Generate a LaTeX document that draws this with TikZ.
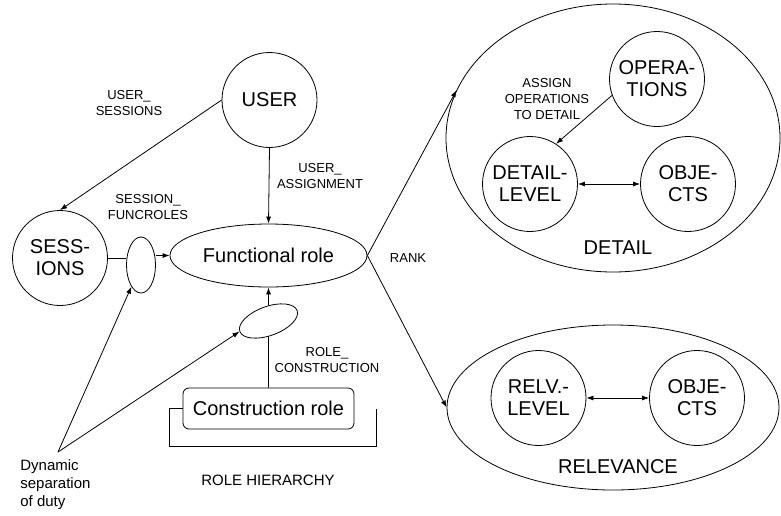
\documentclass[tikz,border=0pt]{standalone}
\usepackage{fontspec}
\setmainfont{Liberation Sans}
\usetikzlibrary{shapes.geometric,arrows.meta,calc}
\begin{document}
\begin{tikzpicture}[x=1pt,y=-1pt,
  line width=0.8pt,
  big/.style={font=\fontsize{20}{22}\selectfont},
  circ/.style={draw,circle,minimum size=95pt,inner sep=0pt,align=center,big},
  ell/.style={draw,ellipse,inner sep=0pt},
  lbl/.style={font=\fontsize{13}{15.5}\selectfont,align=center,inner sep=0pt},
  arr/.style={-{Latex[length=7pt,width=5pt]}},
  arrs/.style={{Latex[length=7pt,width=5pt]}-{Latex[length=7pt,width=5pt]}}]
\useasboundingbox (0,0) rectangle (781,515);

% left part: users, sessions, roles
\node[circ] (user) at (269.5,100) {USER};
\node[circ] (sess) at (60,258) {SESS-\\IONS};
\node[ell,minimum width=29pt,minimum height=56pt] (e1) at (141,265) {};
\node[ell,minimum width=197pt,minimum height=63pt,big] (fr) at (268.5,255.5) {Functional role};
\node[ell,minimum width=61pt,minimum height=29pt,rotate=20] (e2) at (268.5,321) {};
\node[draw,rounded corners=6pt,minimum width=171pt,minimum height=41pt,inner sep=0pt,big] (cr) at (268.5,408.5) {Construction role};
\draw (cr.west) -- ++(-13,0) |- ([xshift=21.5pt,yshift=-17pt]cr.south east) -- ([xshift=21.5pt]cr.east);
\coordinate (dyn) at (58,452);

\draw[arr] (user.west) -- (sess.north);
\draw[arr] (user.south) -- (fr.north);
\draw (sess.east) -- (sess.east -| e1.west);
\draw[arr] (e1.east |- fr.west) -- (fr.west);
\draw[arr] (e2) -- (fr.south);
\draw (cr.north) -- (e2);
\draw[arr] (dyn) -- (e1);
\draw[arr] (dyn) -- (e2.west);

\node[lbl] at (129,103) {USER\_\\SESSIONS};
\node[lbl] at (320,176) {USER\_\\ASSIGNMENT};
\node[lbl] at (148,207) {SESSION\_\\FUNCROLES};
\node[lbl] at (327,360) {ROLE\_\\CONSTRUCTION};
\node[lbl] at (408,258) {RANK};
\node[font=\fontsize{15}{18}\selectfont,inner sep=0pt] at (268,480) {ROLE HIERARCHY};
\node[font=\fontsize{15}{18}\selectfont,align=left,inner sep=0pt,anchor=north west] at (20,459) {Dynamic\\separation\\of duty};

% right part: detail and relevance
\node[ell,minimum width=334pt,minimum height=268pt] (det) at (613,138) {};
\node[circ] (ops) at (657,79) {OPERA-\\TIONS};
\node[circ] (dl) at (530,184) {DETAIL-\\LEVEL};
\node[circ] (ob1) at (688,184) {OBJE-\\CTS};
\node[big] at (618,248) {DETAIL};
\node[lbl,font=\fontsize{13}{16}\selectfont] at (547,99) {ASSIGN\\OPERATIONS\\TO DETAIL};

\node[ell,minimum width=332pt,minimum height=165pt] (rel) at (613,407.5) {};
\node[circ] (rl) at (538.5,398) {RELV.-\\LEVEL};
\node[circ] (ob2) at (697,398) {OBJE-\\CTS};
\node[big] at (618,467) {RELEVANCE};

\draw[arr] (ops.200) -- (dl.57);
\draw[arrs] (dl) -- (ob1);
\draw[arrs] (rl) -- (ob2);
\draw[arr] (fr.east) -- (det.163);
\draw[arr] (fr.east) -- (rel.west);
\end{tikzpicture}
\end{document}
